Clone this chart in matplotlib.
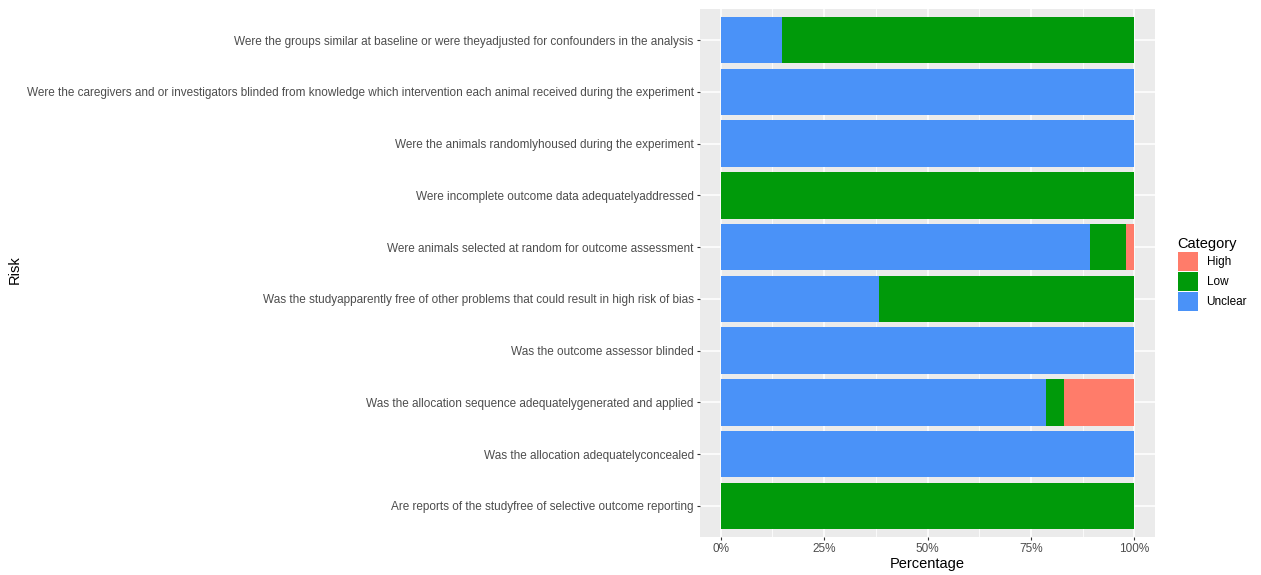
import numpy as np
import matplotlib.pyplot as plt
from matplotlib.patches import Patch

plt.rcParams['font.family'] = ['Liberation Sans', 'DejaVu Sans']

# questions, bottom to top (ggplot order)
questions = [
    "Are reports of the studyfree of selective outcome reporting",
    "Was the allocation adequatelyconcealed",
    "Was the allocation sequence adequatelygenerated and applied",
    "Was the outcome assessor blinded",
    "Was the studyapparently free of other problems that could result in high risk of bias",
    "Were animals selected at random for outcome assessment",
    "Were incomplete outcome data adequatelyaddressed",
    "Were the animals randomlyhoused during the experiment",
    "Were the caregivers and or investigators blinded from knowledge which intervention each animal received during the experiment",
    "Were the groups similar at baseline or were theyadjusted for confounders in the analysis",
]

# share of studies (0-1) per category, same order as questions
unclear = [0.000, 1.000, 0.787, 1.000, 0.383, 0.894, 0.000, 1.000, 1.000, 0.149]
low     = [1.000, 0.000, 0.043, 0.000, 0.617, 0.085, 1.000, 0.000, 0.000, 0.851]
high    = [0.000, 0.000, 0.170, 0.000, 0.000, 0.021, 0.000, 0.000, 0.000, 0.000]

x_ticks = [0, 0.25, 0.5, 0.75, 1.0]
x_labels = ["0%", "25%", "50%", "75%", "100%"]

colors = {"High": "#FF7C6A", "Low": "#009A0A", "Unclear": "#4A92F8"}

fig = plt.figure(figsize=(12.61, 5.75), dpi=100)
ax = fig.add_axes([700 / 1261, 38 / 575, 455 / 1261, 528 / 575])
ax.set_facecolor("#EBEBEB")

y = np.arange(len(questions))
unclear = np.array(unclear)
low = np.array(low)
high = np.array(high)

ax.barh(y, unclear, height=0.9, color=colors["Unclear"], zorder=3)
ax.barh(y, low, left=unclear, height=0.9, color=colors["Low"], zorder=3)
ax.barh(y, high, left=unclear + low, height=0.9, color=colors["High"], zorder=3)

ax.set_xlim(-0.05, 1.05)
ax.set_ylim(-0.6, len(questions) - 0.4)

# ggplot-like grid
ax.set_xticks(x_ticks)
ax.set_xticklabels(x_labels)
ax.set_xticks([0.125, 0.375, 0.625, 0.875], minor=True)
ax.set_yticks(y)
ax.set_yticklabels(questions)
ax.grid(which="major", color="white", linewidth=1.1, zorder=0)
ax.grid(which="minor", axis="x", color="white", linewidth=0.55, zorder=0)
ax.tick_params(axis="both", which="major", length=2.5, width=0.8, color="#333333",
               labelsize=8.5, labelcolor="#4D4D4D", pad=2)
ax.tick_params(axis="x", which="minor", length=0)
for s in ax.spines.values():
    s.set_visible(False)

ax.set_xlabel("Percentage", fontsize=10.5, color="black", labelpad=1)
fig.text(15 / 1261, 1 - 270 / 575, "Risk", rotation=90, fontsize=10.5,
         ha="center", va="center")

handles = [Patch(facecolor=colors[k], edgecolor="none", label=k)
           for k in ["High", "Low", "Unclear"]]
fig.legend(handles=handles, title="Category", loc="upper left",
           bbox_to_anchor=(1167 / 1261, 1 - 226 / 575), frameon=False,
           fontsize=8.5, title_fontsize=10.5, handlelength=1.75, handleheight=2.0,
           labelspacing=0.15, handletextpad=0.7, alignment="left")

fig.savefig("out.png", dpi=100)
